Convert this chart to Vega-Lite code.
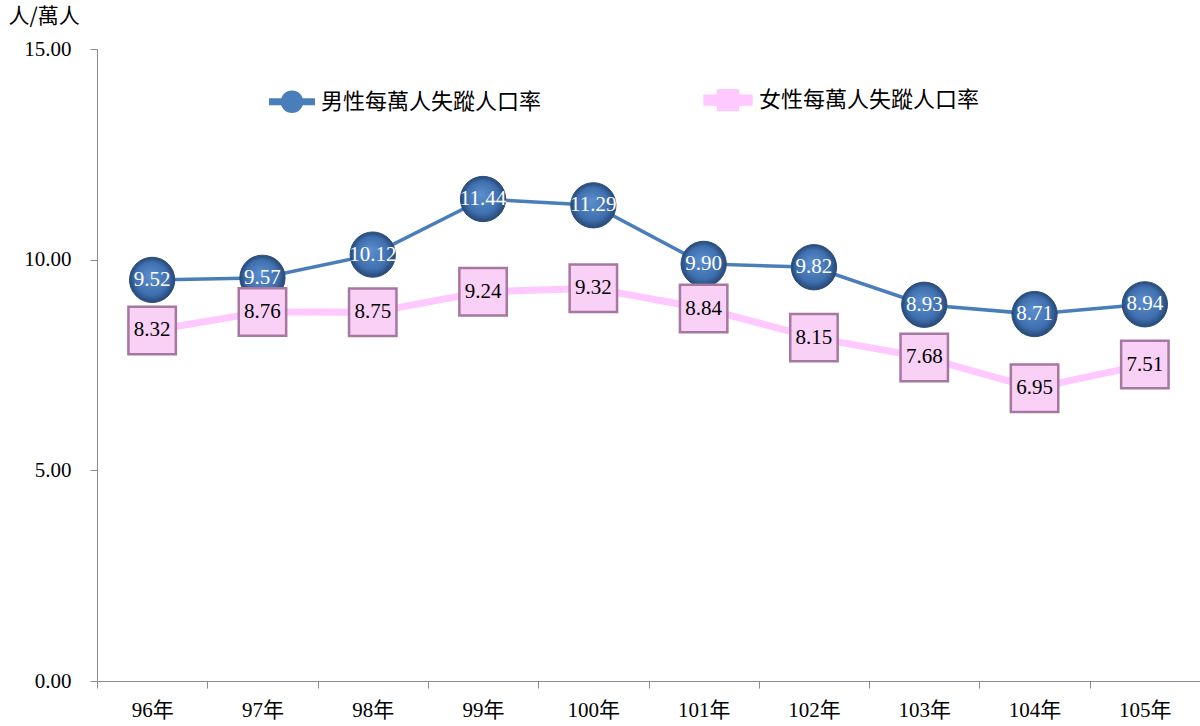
{
  "$schema": "https://vega.github.io/schema/vega-lite/v6.json",
  "autosize": {"type": "none"},
  "padding": {"top": 49, "left": 97, "right": 0, "bottom": 45},
  "width": 1103,
  "height": 632,
  "background": "white",
  "config": {"view": {"stroke": null}},
  "data": {
    "values": [
      {"year": "96年", "series": "男性每萬人失蹤人口率", "value": 9.52},
      {"year": "97年", "series": "男性每萬人失蹤人口率", "value": 9.57},
      {"year": "98年", "series": "男性每萬人失蹤人口率", "value": 10.12},
      {"year": "99年", "series": "男性每萬人失蹤人口率", "value": 11.44},
      {"year": "100年", "series": "男性每萬人失蹤人口率", "value": 11.29},
      {"year": "101年", "series": "男性每萬人失蹤人口率", "value": 9.90},
      {"year": "102年", "series": "男性每萬人失蹤人口率", "value": 9.82},
      {"year": "103年", "series": "男性每萬人失蹤人口率", "value": 8.93},
      {"year": "104年", "series": "男性每萬人失蹤人口率", "value": 8.71},
      {"year": "105年", "series": "男性每萬人失蹤人口率", "value": 8.94},
      {"year": "96年", "series": "女性每萬人失蹤人口率", "value": 8.32},
      {"year": "97年", "series": "女性每萬人失蹤人口率", "value": 8.76},
      {"year": "98年", "series": "女性每萬人失蹤人口率", "value": 8.75},
      {"year": "99年", "series": "女性每萬人失蹤人口率", "value": 9.24},
      {"year": "100年", "series": "女性每萬人失蹤人口率", "value": 9.32},
      {"year": "101年", "series": "女性每萬人失蹤人口率", "value": 8.84},
      {"year": "102年", "series": "女性每萬人失蹤人口率", "value": 8.15},
      {"year": "103年", "series": "女性每萬人失蹤人口率", "value": 7.68},
      {"year": "104年", "series": "女性每萬人失蹤人口率", "value": 6.95},
      {"year": "105年", "series": "女性每萬人失蹤人口率", "value": 7.51}
    ]
  },
  "encoding": {
    "x": {
      "field": "year", "type": "ordinal", "sort": null,
      "scale": {"type": "band", "paddingInner": 0, "paddingOuter": 0},
      "axis": {
        "title": null, "labelAngle": 0, "tickBand": "extent",
        "domainColor": "#8c8c8c", "tickColor": "#8c8c8c", "tickSize": 7,
        "labelFont": "Liberation Serif, Noto Sans CJK TC", "labelFontSize": 21,
        "labelColor": "#000000", "labelPadding": 11
      }
    },
    "y": {
      "field": "value", "type": "quantitative",
      "scale": {"domain": [0, 15], "nice": false},
      "axis": {
        "values": [0, 5, 10, 15], "format": ".2f", "grid": false,
        "domainColor": "#8c8c8c", "tickColor": "#8c8c8c", "tickSize": 7,
        "labelFont": "Liberation Serif", "labelFontSize": 21, "labelColor": "#000000",
        "labelPadding": 19,
        "title": "人/萬人", "titleAngle": 0, "titleX": -89, "titleY": -33,
        "titleAlign": "left", "titleBaseline": "middle",
        "titleFont": "Noto Sans CJK TC", "titleFontSize": 21, "titleFontWeight": "normal",
        "titleColor": "#000000"
      }
    }
  },
  "layer": [
    {
      "mark": {"type": "line", "strokeCap": "round"},
      "encoding": {
        "color": {
          "field": "series", "type": "nominal", "sort": null,
          "scale": {"domain": ["男性每萬人失蹤人口率", "女性每萬人失蹤人口率"], "range": ["#4a7ebb", "#ffc9ff"]},
          "legend": {
            "title": null, "orient": "none", "direction": "horizontal",
            "legendX": 172, "legendY": 26, "padding": 0,
            "columnPadding": 150, "symbolSize": 1800, "symbolStrokeWidth": 0,
            "labelFont": "Noto Sans CJK TC", "labelFontSize": 22, "labelColor": "#000000",
            "labelOffset": 6, "labelLimit": 400,
            "encode": {
              "symbols": {
                "update": {
                  "shape": {"signal": "datum.value === '男性每萬人失蹤人口率' ? 'M-1,-0.08H1V0.08H-1Z M0.45,0A0.45,0.45,0,1,1,-0.45,0A0.45,0.45,0,1,1,0.45,0Z' : 'M-1,-0.1H1V0.1H-1Z M-0.36,-0.36H0.36V0.36H-0.36Z'"},
                  "fill": {"signal": "datum.value === '男性每萬人失蹤人口率' ? '#4a7ebb' : '#eab2e6'"},
                  "stroke": {"value": null},
                  "opacity": {"value": 1},
                  "fillOpacity": {"value": 1}
                }
              }
            }
          }
        },
        "strokeWidth": {
          "field": "series", "type": "nominal",
          "scale": {"domain": ["男性每萬人失蹤人口率", "女性每萬人失蹤人口率"], "range": [3.5, 7]},
          "legend": null
        }
      }
    },
    {
      "transform": [{"filter": "datum.series === '男性每萬人失蹤人口率'"}],
      "mark": {
        "type": "point", "shape": "circle", "size": 2050, "filled": true, "opacity": 1,
        "fill": {
          "gradient": "radial", "x1": 0.45, "y1": 0.4, "r1": 0, "x2": 0.5, "y2": 0.5, "r2": 0.5,
          "stops": [{"offset": 0, "color": "#5c8fcf"}, {"offset": 0.72, "color": "#3f6fae"}, {"offset": 1, "color": "#264876"}]
        },
        "stroke": "#2c4d7a", "strokeWidth": 1
      }
    },
    {
      "transform": [{"filter": "datum.series === '女性每萬人失蹤人口率'"}],
      "mark": {
        "type": "point", "shape": "square", "size": 2250, "filled": true, "opacity": 1,
        "fill": "#f9d0f6", "stroke": "#a6779f", "strokeWidth": 2.5
      }
    },
    {
      "mark": {"type": "text", "font": "Liberation Serif", "fontSize": 21, "align": "center", "baseline": "middle"},
      "encoding": {
        "text": {"field": "value", "type": "quantitative", "format": ".2f"},
        "color": {"condition": {"test": "datum.series === '男性每萬人失蹤人口率'", "value": "#ffffff"}, "value": "#000000"}
      }
    }
  ]
}
